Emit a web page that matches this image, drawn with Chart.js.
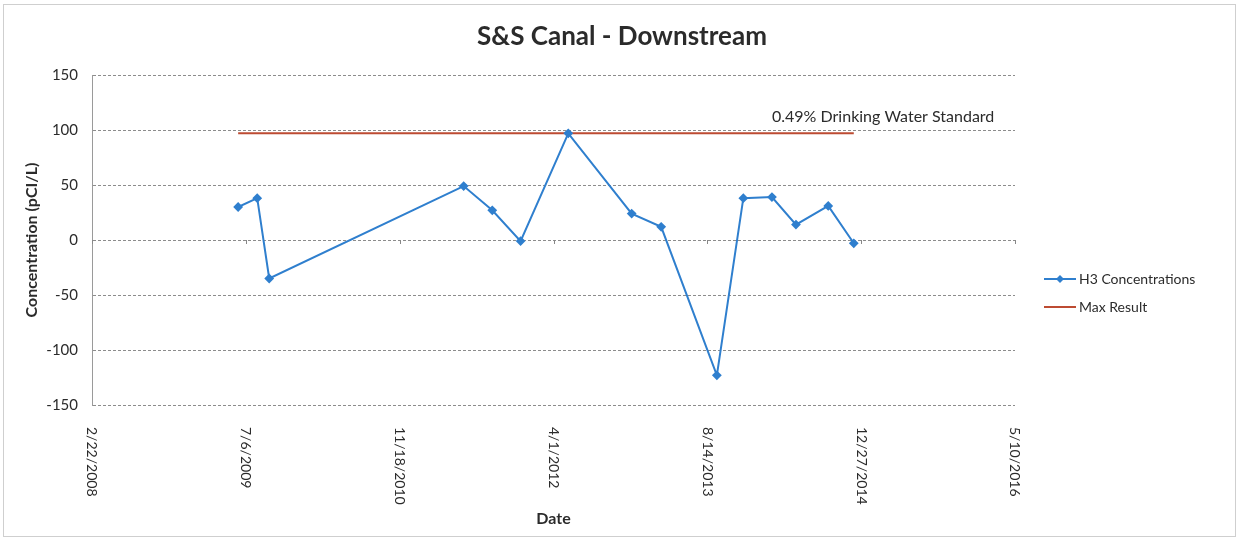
<!DOCTYPE html>
<html>
<head>
<meta charset="utf-8">
<script src="https://cdn.jsdelivr.net/npm/chart.js@4.4.1/dist/chart.umd.min.js"></script>
<style>
  html, body { margin: 0; padding: 0; background: #fff; }
  canvas { display: block; }
</style>
</head>
<body>
<canvas id="chart" width="1239" height="541"></canvas>
<script>
// sample dates (M/D/YYYY) and H3 results
const sampleDates = [
  '6/11/2009', '8/12/2009', '9/20/2009', '6/14/2011', '9/15/2011',
  '12/16/2011', '5/19/2012', '12/11/2012', '3/17/2013', '9/14/2013',
  '12/9/2013', '3/12/2014', '5/29/2014', '9/11/2014', '12/3/2014'
];
const h3Values = [30, 38, -35, 49, 27, -1, 97, 24, 12, -123, 38, 39, 14, 31, -3];
const maxResult = 97;

// axis range
const axisStartDate = '2/22/2008';
const axisEndDate = '5/10/2016';
const tickStepDays = 500;
const yMin = -150;
const yMax = 150;
const yStep = 50;

const titleText = 'S&S Canal - Downstream';
const noteText = '0.49% Drinking Water Standard';
const fontFamily = 'Lato, "Open Sans", sans-serif';

// Excel style day serials
const toSerial = s => {
  const [m, d, y] = s.split('/').map(Number);
  return (Date.UTC(y, m - 1, d) - Date.UTC(1899, 11, 30)) / 864e5;
};
const serialToLabel = v => {
  const d = new Date(Date.UTC(1899, 11, 30) + v * 864e5);
  return (d.getUTCMonth() + 1) + '/' + d.getUTCDate() + '/' + d.getUTCFullYear();
};

const h3Points = sampleDates.map((d, i) => ({ x: toSerial(d), y: h3Values[i] }));
const maxPoints = [
  { x: toSerial(sampleDates[0]), y: maxResult },
  { x: toSerial(sampleDates[sampleDates.length - 1]), y: maxResult }
];

const blue = '#2f7fce';
const red = '#bd4b32';
const textColor = '#2b2b2b';

const extras = {
  id: 'extras',
  beforeDraw(chart) {
    const ctx = chart.ctx;
    ctx.save();
    ctx.strokeStyle = '#cfcfcf';
    ctx.lineWidth = 1;
    ctx.strokeRect(3.5, 4.5, 1232, 532);
    ctx.restore();
  },
  afterDraw(chart) {
    const ctx = chart.ctx;
    const xs = chart.scales.x;
    const ys = chart.scales.y;
    const area = chart.chartArea;
    ctx.save();

    // title
    ctx.fillStyle = textColor;
    ctx.font = 'bold 26px ' + fontFamily;
    ctx.textAlign = 'center';
    ctx.textBaseline = 'middle';
    ctx.fillText(titleText, 622, 37);

    // small tick marks on the zero line
    const y0 = ys.getPixelForValue(0);
    ctx.strokeStyle = '#888';
    ctx.lineWidth = 1;
    xs.ticks.forEach(t => {
      const px = Math.round(xs.getPixelForValue(t.value)) + 0.5;
      ctx.beginPath();
      ctx.moveTo(px, y0);
      ctx.lineTo(px, y0 + 4);
      ctx.stroke();
    });

    // date labels, rotated clockwise
    ctx.fillStyle = textColor;
    ctx.font = '14px ' + fontFamily;
    ctx.textAlign = 'left';
    ctx.textBaseline = 'middle';
    xs.ticks.forEach(t => {
      const px = xs.getPixelForValue(t.value);
      ctx.save();
      ctx.translate(px, area.bottom + 22);
      ctx.rotate(Math.PI / 2);
      ctx.fillText(serialToLabel(t.value), 0, 0);
      ctx.restore();
    });

    // note above the max line
    ctx.font = '16px ' + fontFamily;
    ctx.textAlign = 'left';
    ctx.fillText(noteText, 772, 117);

    // legend
    const lx = 1044;
    ctx.lineWidth = 2;
    ctx.strokeStyle = blue;
    ctx.beginPath();
    ctx.moveTo(lx, 279);
    ctx.lineTo(lx + 32, 279);
    ctx.stroke();
    ctx.fillStyle = blue;
    ctx.beginPath();
    ctx.moveTo(lx + 16, 275);
    ctx.lineTo(lx + 20, 279);
    ctx.lineTo(lx + 16, 283);
    ctx.lineTo(lx + 12, 279);
    ctx.closePath();
    ctx.fill();
    ctx.strokeStyle = red;
    ctx.beginPath();
    ctx.moveTo(lx, 307);
    ctx.lineTo(lx + 32, 307);
    ctx.stroke();
    ctx.fillStyle = textColor;
    ctx.font = '14px ' + fontFamily;
    ctx.fillText('H3 Concentrations', lx + 35, 279);
    ctx.fillText('Max Result', lx + 35, 307);

    ctx.restore();
  }
};

new Chart(document.getElementById('chart'), {
  type: 'scatter',
  data: {
    datasets: [
      {
        label: 'H3 Concentrations',
        data: h3Points,
        showLine: true,
        borderColor: blue,
        backgroundColor: blue,
        borderWidth: 2,
        pointStyle: 'rectRot',
        pointRadius: 3.5,
        tension: 0
      },
      {
        label: 'Max Result',
        data: maxPoints,
        showLine: true,
        borderColor: red,
        backgroundColor: red,
        borderWidth: 2,
        pointRadius: 0
      }
    ]
  },
  options: {
    responsive: false,
    animation: false,
    layout: { padding: { left: 0, top: 75, right: 224, bottom: 0 } },
    scales: {
      x: {
        type: 'linear',
        min: toSerial(axisStartDate),
        max: toSerial(axisEndDate),
        grid: { display: false },
        border: { display: false },
        ticks: { display: false, stepSize: tickStepDays },
        title: {
          display: true,
          text: 'Date',
          color: textColor,
          font: { family: fontFamily, size: 16, weight: 'bold' },
          padding: { top: 0, bottom: 13 }
        },
        afterFit(scale) { scale.height = 136; }
      },
      y: {
        min: yMin,
        max: yMax,
        ticks: {
          stepSize: yStep,
          color: textColor,
          padding: 14,
          font: { family: fontFamily, size: 15 }
        },
        grid: { color: '#8c8c8c', drawTicks: false },
        border: { display: true, color: '#9a9a9a', dash: [3, 2] },
        title: {
          display: true,
          text: 'Concentration (pCI/L)',
          color: textColor,
          font: { family: fontFamily, size: 16, weight: 'bold' },
          padding: { top: 22, bottom: 0 }
        },
        afterFit(scale) { scale.width = 92; }
      }
    },
    plugins: {
      legend: { display: false },
      tooltip: { enabled: false }
    }
  },
  plugins: [extras]
});
</script>
</body>
</html>
